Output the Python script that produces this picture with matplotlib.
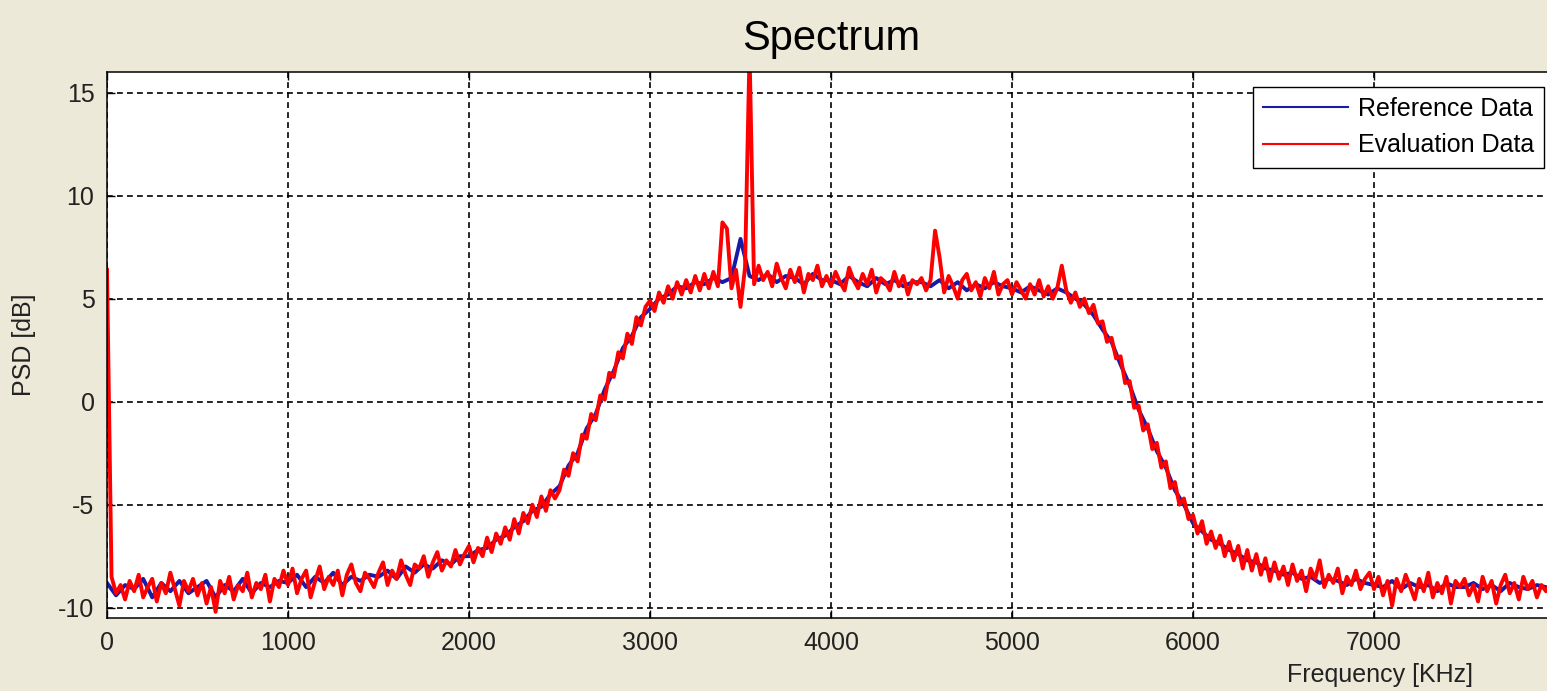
import numpy as np
import matplotlib
matplotlib.use("Agg")
import matplotlib.pyplot as plt

# PSD, 25 KHz grid for the evaluation trace, 50 KHz for the reference
EVAL_STEP = 25
REF_STEP = 50

evaluation_db = [
    6.4, -8.5, -9.3, -8.9, -9.6, -8.7, -9.2, -8.4, -9.5, -9.0, -8.6, -9.7, -8.8, -9.3, -8.3, -9.1, -9.9, -8.7, -9.2, -8.6,
    -9.4, -8.8, -9.8, -9.0, -10.2, -8.7, -9.3, -8.5, -9.6, -8.9, -9.2, -8.3, -9.5, -8.8, -9.1, -8.4, -9.7, -8.6, -9.0, -8.2,
    -8.9, -8.1, -9.3, -8.6, -8.2, -9.5, -8.7, -8.0, -9.1, -8.5, -8.9, -8.2, -9.4, -8.4, -7.9, -8.8, -9.2, -8.3, -8.6, -9.0,
    -8.3, -7.8, -8.9, -8.2, -8.6, -7.7, -8.4, -8.9, -7.9, -8.1, -7.5, -8.5, -7.8, -7.3, -8.2, -7.7, -8.0, -7.2, -7.9, -7.4,
    -7.0, -7.8, -7.1, -7.5, -6.6, -7.3, -6.4, -6.9, -6.1, -6.7, -5.7, -6.4, -5.4, -5.9, -5.0, -5.6, -4.6, -5.3, -4.3, -4.7,
    -4.3, -3.3, -3.6, -2.5, -2.9, -1.6, -1.8, -0.6, -0.9, 0.3, 0.1, 1.4, 1.2, 2.4, 2.1, 3.3, 2.8, 4.1, 3.7, 4.6,
    4.9, 4.4, 5.3, 4.8, 5.6, 5.0, 5.8, 5.2, 5.9, 5.3, 6.1, 5.4, 6.2, 5.5, 6.3, 5.6, 8.7, 8.4, 5.5, 6.4,
    4.6, 6.5, 17.0, 5.7, 6.6, 5.9, 6.3, 5.6, 6.7, 6.0, 5.5, 6.4, 5.8, 6.5, 5.3, 6.2, 5.9, 6.6, 5.6, 6.1,
    5.6, 6.3, 5.8, 5.4, 6.5, 5.9, 5.5, 6.2, 5.7, 6.4, 5.3, 6.0, 5.8, 5.4, 6.3, 5.6, 6.1, 5.2, 5.9, 5.7,
    6.0, 5.4, 5.9, 8.3, 7.0, 5.3, 6.1, 5.6, 5.0, 5.9, 6.2, 5.4, 5.8, 5.1, 6.0, 5.5, 6.3, 5.2, 5.7, 5.9,
    5.2, 5.8, 5.4, 5.0, 5.7, 5.2, 5.9, 5.1, 5.6, 5.0, 5.5, 6.6, 5.4, 4.8, 5.3, 4.6, 5.0, 4.3, 4.7, 3.8,
    3.9, 2.9, 3.1, 2.1, 2.2, 0.9, 1.0, -0.3, -0.2, -1.4, -1.1, -2.3, -2.0, -3.2, -2.9, -4.2, -3.9, -5.0, -4.7, -5.7,
    -5.5, -6.4, -5.8, -6.9, -6.3, -7.1, -6.5, -7.5, -6.8, -7.7, -7.0, -8.1, -7.2, -8.2, -7.4, -8.4, -7.6, -8.7, -7.8, -8.6,
    -8.0, -8.9, -7.9, -8.7, -8.2, -9.2, -8.1, -8.6, -7.7, -9.0, -8.4, -8.8, -8.1, -9.3, -8.5, -8.9, -8.2, -9.1, -8.6, -8.3,
    -9.1, -8.5, -9.4, -8.7, -9.9, -8.6, -9.2, -8.4, -9.0, -9.6, -8.6, -9.2, -8.3, -9.5, -8.8, -9.3, -8.5, -9.8, -8.7, -9.0,
    -8.6, -9.4, -8.9, -9.7, -8.5, -9.2, -8.7, -9.8, -8.9, -8.4, -9.3, -8.8, -9.6, -8.5, -9.1, -8.7, -9.5, -8.9, -9.2, -8.8,
]

reference_db = [
    -8.8, -9.4, -8.9, -9.1, -8.6, -9.5, -8.8, -9.2, -8.7, -9.3,
    -9.0, -8.7, -9.5, -8.9, -9.2, -8.6, -9.3, -8.8, -9.0, -8.7,
    -8.8, -8.4, -9.0, -8.5, -8.8, -8.3, -8.9, -8.5, -8.7, -8.4,
    -8.5, -8.2, -8.6, -8.0, -8.3, -7.9, -8.1, -7.7, -7.9, -7.5,
    -7.5, -7.2, -7.1, -6.7, -6.5, -6.1, -5.8, -5.3, -5.1, -4.5,
    -4.1, -3.1, -2.5, -1.3, -0.6, 0.6, 1.5, 2.6, 3.2, 4.1,
    4.5, 5.0, 5.2, 5.6, 5.5, 5.8, 5.7, 6.0, 5.8, 6.0,
    7.9, 6.1, 5.9, 6.2, 5.8, 6.1, 6.0, 5.7, 6.2, 5.9,
    5.9, 5.7, 6.1, 5.8, 5.6, 6.0, 5.7, 5.9, 5.6, 5.8,
    5.8, 5.6, 5.9, 5.5, 5.8, 5.4, 5.7, 5.5, 5.8, 5.6,
    5.5, 5.3, 5.6, 5.4, 5.2, 5.5, 5.3, 5.0, 4.7, 4.2,
    3.5, 2.9, 1.8, 0.8, -0.4, -1.3, -2.4, -3.2, -4.3, -5.0,
    -5.9, -6.3, -6.7, -6.9, -7.2, -7.4, -7.7, -7.8, -8.1, -8.2,
    -8.4, -8.3, -8.6, -8.5, -8.8, -8.6, -8.7, -8.9, -8.6, -8.8,
    -8.9, -9.0, -8.7, -9.1, -8.8, -9.0, -8.9, -9.2, -8.8, -9.0,
    -9.0, -8.8, -9.1, -8.9, -9.2, -8.8, -9.0, -9.1, -8.9, -9.0,
]

x_ticks = [0, 1000, 2000, 3000, 4000, 5000, 6000, 7000]
y_ticks = [-10, -5, 0, 5, 10, 15]

eval_freq = np.arange(len(evaluation_db)) * EVAL_STEP
ref_freq = np.arange(len(reference_db)) * REF_STEP

plt.rcParams['axes.unicode_minus'] = False
FONT = 'Liberation Sans'
BG = '#ece9d8'

W, H = 1547, 691
fig = plt.figure(figsize=(W / 100, H / 100), dpi=100, facecolor=BG)
# axes runs a little past the right edge, as in the cropped screenshot
ax = fig.add_axes([107 / W, 73 / H, 1448 / W, 546 / H])
ax.set_facecolor('white')

ax.plot(ref_freq, reference_db, color='#1a1aa8', lw=2.8, label='Reference Data')
ax.plot(eval_freq, evaluation_db, color='#ff0000', lw=2.8, label='Evaluation Data')

ax.set_xlim(0, 8000)
ax.set_ylim(-10.5, 16)
ax.set_xticks(x_ticks)
ax.set_yticks(y_ticks)
ax.grid(True, color='black', lw=1.2, linestyle=(0, (3.5, 2.5)))
ax.tick_params(direction='in', length=6, width=1, top=True, right=True,
               labelsize=18, pad=9, colors='black')
for lab in ax.get_xticklabels() + ax.get_yticklabels():
    lab.set_family(FONT)
    lab.set_color('#222222')
for sp in ax.spines.values():
    sp.set_linewidth(1.1)

ax.set_title('Spectrum', fontsize=30, family=FONT, pad=16)
ax.set_ylabel('PSD [dB]', fontsize=18, family=FONT, labelpad=16, color='#222222')
ax.set_xlabel('Frequency [KHz]', fontsize=18, family=FONT, color='#222222')
ax.xaxis.set_label_coords(0.879, -0.104)
ax.xaxis.label.set_va('center')

leg = ax.legend(loc='upper right', bbox_to_anchor=(1544 / W, 1 - 87 / H),
                bbox_transform=fig.transFigure, borderaxespad=0,
                prop={'family': FONT, 'size': 18}, fancybox=False,
                framealpha=1, edgecolor='black', handlelength=3.4,
                handletextpad=0.4, labelspacing=0.5, borderpad=0.4)
leg.get_frame().set_linewidth(1.0)
for line in leg.get_lines():
    line.set_linewidth(1.5)

fig.savefig('out.png', dpi=100, facecolor=BG)
